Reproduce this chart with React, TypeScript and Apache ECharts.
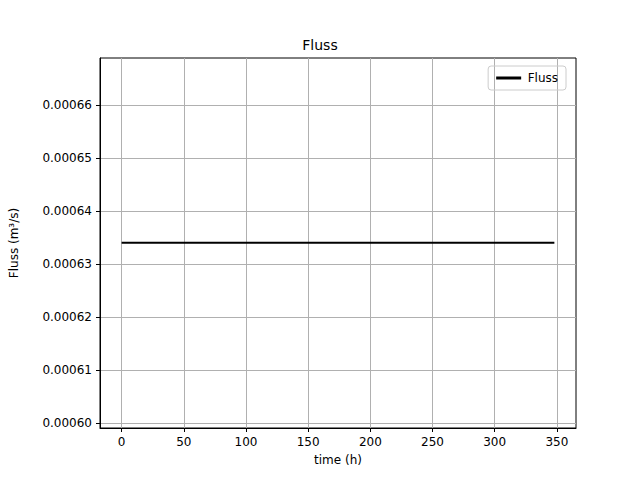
import React, { useEffect, useRef } from 'react';
import * as echarts from 'echarts';

const timeH = [0, 348];
const flussValues = [0.000634, 0.000634];
const xTicks = [0, 50, 100, 150, 200, 250, 300, 350];
const yTicks = [0.0006, 0.00061, 0.00062, 0.00063, 0.00064, 0.00065, 0.00066];

const App: React.FC = () => {
  const chartRef = useRef<HTMLDivElement | null>(null);

  useEffect(() => {
    if (!chartRef.current) return;
    const chart = echarts.init(chartRef.current, undefined, { renderer: 'svg' });
    const font = 'DejaVu Sans';
    chart.setOption({
      animation: false,
      backgroundColor: '#fff',
      textStyle: { fontFamily: font },
      title: {
        text: 'Fluss',
        left: 'center',
        top: 33,
        textStyle: { fontFamily: font, fontSize: 14, fontWeight: 'normal', color: '#000' },
      },
      legend: {
        right: 74,
        top: 66,
        orient: 'vertical',
        data: ['Fluss'],
        icon: 'path://M0,0 L1,0 L1,0.12 L0,0.12 Z',
        itemWidth: 28,
        itemHeight: 3,
        borderColor: '#ccc',
        borderWidth: 1,
        borderRadius: 3,
        padding: [6, 8],
        textStyle: { fontFamily: font, fontSize: 12, color: '#000' },
      },
      grid: { left: 81, right: 64, top: 58, bottom: 52, show: true, borderColor: '#000', borderWidth: 1 },
      xAxis: {
        type: 'value',
        min: -17.4,
        max: 365.4,
        name: 'time (h)',
        nameLocation: 'middle',
        nameGap: 26,
        nameTextStyle: { fontFamily: font, fontSize: 12, color: '#000' },
        axisLine: { onZero: false, lineStyle: { color: '#000' } },
        axisTick: { customValues: xTicks, length: 4, lineStyle: { color: '#000' } },
        axisLabel: { customValues: xTicks, color: '#000', fontSize: 12, fontFamily: font },
        splitLine: { show: true, lineStyle: { color: '#b0b0b0' } },
      },
      yAxis: {
        type: 'value',
        min: 0.000599057,
        max: 0.000668867,
        name: 'Fluss (m³/s)',
        nameLocation: 'middle',
        nameGap: 80,
        nameTextStyle: { fontFamily: font, fontSize: 12, color: '#000' },
        axisLine: { show: true, onZero: false, lineStyle: { color: '#000' } },
        axisTick: { show: true, customValues: yTicks, length: 4, lineStyle: { color: '#000' } },
        axisLabel: {
          customValues: yTicks,
          color: '#000',
          fontSize: 12,
          fontFamily: font,
          formatter: (v: number) => v.toFixed(5),
        },
        splitLine: { show: true, lineStyle: { color: '#b0b0b0' } },
      },
      series: [
        {
          name: 'Fluss',
          type: 'line',
          data: timeH.map((t, i) => [t, flussValues[i]]),
          showSymbol: false,
          lineStyle: { color: '#000', width: 2 },
          itemStyle: { color: '#000' },
        },
      ],
    });
    return () => chart.dispose();
  }, []);

  return <div ref={chartRef} style={{ width: 640, height: 480, position: 'absolute', left: 0, top: 0 }} />;
};

export default App;
